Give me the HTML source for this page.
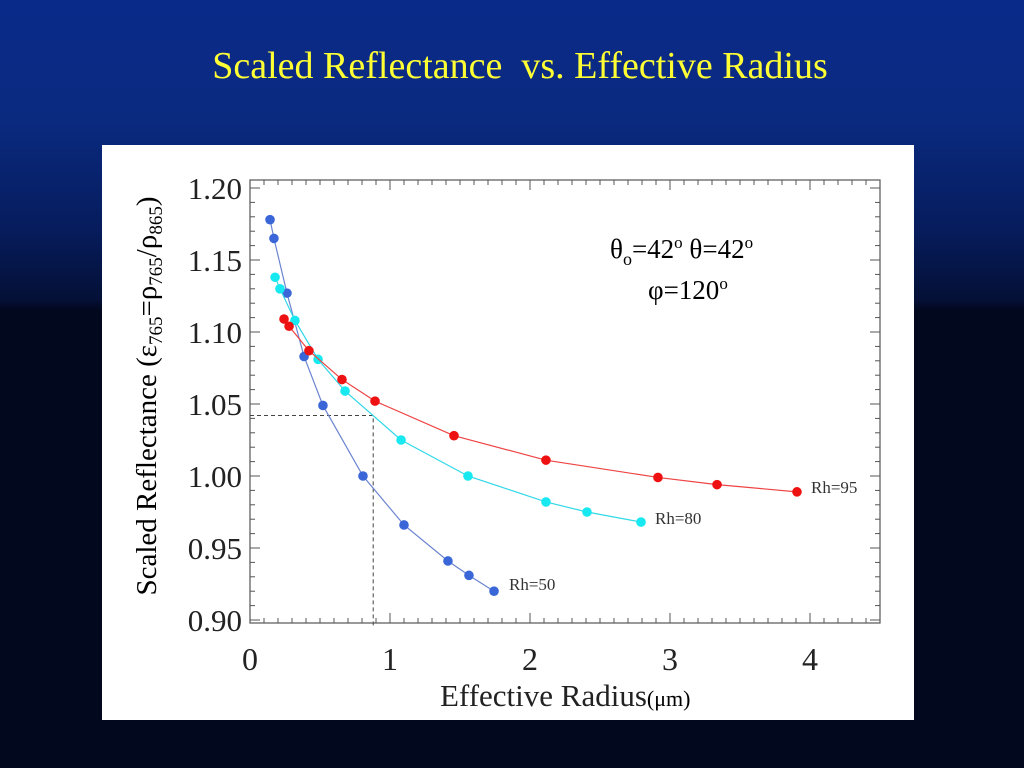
<!DOCTYPE html>
<html><head><meta charset="utf-8">
<style>
html,body{margin:0;padding:0;}
body{width:1024px;height:768px;overflow:hidden;background:linear-gradient(#0a2a8a 0px,#0a2a80 120px,#061c5c 230px,#041036 300px,#02081e 310px,#02081e 768px);position:relative;font-family:"Liberation Serif",serif;}
#title{position:absolute;left:0;width:1040px;top:44px;text-align:center;color:#ffff33;font-size:38px;}
#panel{position:absolute;left:102px;top:145px;width:812px;height:575px;background:#fff;}
svg{position:absolute;left:0;top:0;}
</style></head><body>
<div id="title">Scaled Reflectance&nbsp; vs. Effective Radius</div>
<div id="panel"></div>
<svg id="chart" width="1024" height="768" font-family="Liberation Serif, serif"></svg>
<script>
const xTicks=[0,1,2,3,4];
const yTicks=[1.20,1.15,1.10,1.05,1.00,0.95,0.90];
const rh50X=[0.143,0.171,0.264,0.386,0.521,0.807,1.1,1.414,1.564,1.743];
const rh50Y=[1.178,1.165,1.127,1.083,1.049,1.000,0.966,0.941,0.931,0.920];
const rh80X=[0.179,0.214,0.321,0.486,0.679,1.079,1.557,2.114,2.407,2.793];
const rh80Y=[1.138,1.130,1.108,1.081,1.059,1.025,1.000,0.982,0.975,0.968];
const rh95X=[0.243,0.279,0.421,0.657,0.893,1.457,2.114,2.914,3.336,3.907];
const rh95Y=[1.109,1.104,1.087,1.067,1.052,1.028,1.011,0.999,0.994,0.989];
const refX=0.88, refY=1.042;
const X0=250,X1=880,Y0=180,Y1=623;
const sx=v=>250+v*140;
const sy=v=>476-(v-1.0)*1440;
const svg=document.getElementById('chart');
const NS='http://www.w3.org/2000/svg';
function mk(t,a,p){const e=document.createElementNS(NS,t);for(const k in a)e.setAttribute(k,a[k]);(p||svg).appendChild(e);return e;}
// frame
const fr=mk('rect',{x:X0,y:Y0,width:X1-X0,height:Y1-Y0,fill:'none',stroke:'#555','stroke-width':1.2});


// minor/major ticks
for(let i=0;i<=45;i++){const v=i*0.1;const x=sx(v);if(x>X1)break;const L=(i%10===0)?10:5;
 mk('line',{x1:x,x2:x,y1:Y1,y2:Y1-L,stroke:'#555'});mk('line',{x1:x,x2:x,y1:Y0,y2:Y0+L,stroke:'#555'});}
for(let i=0;i<=32;i++){const v=0.89+i*0.01;const y=sy(v);if(y<Y0||y>Y1)continue;const L=(Math.round(v*100)%5===0)?10:5;
 mk('line',{x1:X0,x2:X0+L,y1:y,y2:y,stroke:'#555'});mk('line',{x1:X1,x2:X1-L,y1:y,y2:y,stroke:'#555'});}
xTicks.forEach(v=>{const t=mk('text',{x:sx(v),y:670,'text-anchor':'middle','font-size':32,fill:'#222'});t.textContent=v;
 
 });
yTicks.forEach(v=>{const t=mk('text',{x:242,y:sy(v)+11,'text-anchor':'end','font-size':31,fill:'#222'});t.textContent=v.toFixed(2);
 
 });
// reference dashed lines
const rl=mk('path',{d:`M${X0} ${sy(refY)}H${sx(refX)}V${Y1+5}`,fill:'none',stroke:'#444','stroke-dasharray':'4,3','stroke-width':1});


function series(xs,ys,col,lineCol,name,label,lx,ly){
 const d=xs.map((x,i)=>(i?'L':'M')+sx(x)+' '+sy(ys[i])).join('');
 const p=mk('path',{d,fill:'none',stroke:lineCol,'stroke-width':1.2});
 
 
 xs.forEach((x,i)=>{const c=mk('circle',{cx:sx(x),cy:sy(ys[i]),r:4.8,fill:col});
  
  });
 const t=mk('text',{x:lx,y:ly,'font-size':17,fill:'#333'});t.textContent=label;
 
 
}
series(rh50X,rh50Y,'#3a66d8','#6b84d0','rh50','Rh=50',509,590);
series(rh80X,rh80Y,'#18e8f0','#30d8e8','rh80','Rh=80',655,524);
series(rh95X,rh95Y,'#ee1111','#ee4444','rh95','Rh=95',811,493);
// annotations
const a1=mk('text',{x:610,y:258,'font-size':27,fill:'#000'});
a1.innerHTML='θ<tspan font-size="18" dy="7">o</tspan><tspan dy="-7">=42</tspan><tspan font-size="17" dy="-10">o</tspan><tspan dy="10"> θ=42</tspan><tspan font-size="17" dy="-10">o</tspan>';


const a2=mk('text',{x:648,y:299,'font-size':27,fill:'#000'});
a2.innerHTML='φ=120<tspan font-size="17" dy="-10">o</tspan>';


const xt=mk('text',{x:440,y:706,'font-size':31,fill:'#222'});
xt.innerHTML='Effective Radius<tspan font-size="22" fill="#000">(μm)</tspan>';


const yt=mk('text',{x:0,y:0,'font-size':29,fill:'#000','text-anchor':'middle',transform:'translate(156,396) rotate(-90)'});
yt.innerHTML='Scaled Reflectance (ε<tspan font-size="19" dy="6">765</tspan><tspan dy="-6">=ρ</tspan><tspan font-size="19" dy="6">765</tspan><tspan dy="-6">/ρ</tspan><tspan font-size="19" dy="6">865</tspan><tspan dy="-6">)</tspan>';


</script>
</body></html>
